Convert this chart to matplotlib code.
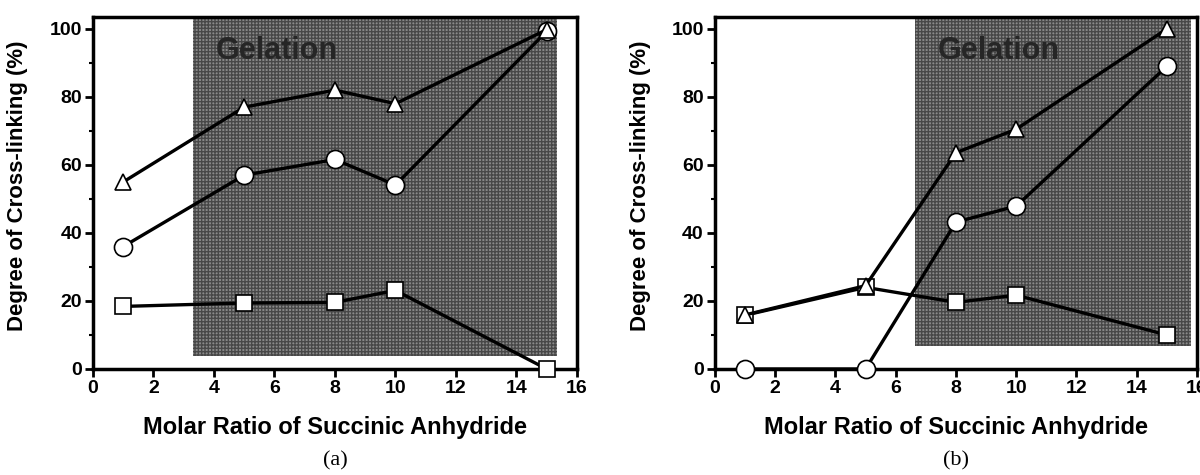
import matplotlib.pyplot as plt
from matplotlib.patches import Rectangle
from matplotlib.ticker import MultipleLocator

plt.rcParams['font.family'] = ['Liberation Sans', 'DejaVu Sans']

x = [1, 5, 8, 10, 15]

# panel (a)
a_tri = [55, 77, 82, 78, 99.8]
a_circ = [36, 57, 61.6, 54.1, 99.3]
a_sq = [18.4, 19.4, 19.6, 23.1, 0]

# panel (b)
b_tri = [15.9, 24.5, 63.6, 70.5, 100]
b_circ = [0, 0, 43.2, 47.9, 89]
b_sq = [15.8, 24, 19.6, 21.7, 10]

# gelation region (x0, x1, y0, y1)
a_gel = (3.3, 15.35, 3.7, 102.8)
b_gel = (6.65, 15.8, 6.8, 102.8)

xticks = list(range(0, 17, 2))
yticks = list(range(0, 101, 20))

fig = plt.figure(figsize=(12, 4.75), dpi=100)
ax1 = fig.add_axes([0.0775, 0.2232, 0.4033, 0.741])
ax2 = fig.add_axes([0.5958, 0.2232, 0.4017, 0.741])


def panel(ax, gel, tri, circ, sq, gel_x, tag):
    x0, x1, y0, y1 = gel
    ax.add_patch(Rectangle((x0, y0), x1 - x0, y1 - y0, facecolor='#8a8a8a',
                           edgecolor='#484848', hatch='+++++', linewidth=0, zorder=1))
    ax.text(gel_x, 93.5, 'Gelation', fontsize=22, fontweight='bold', color='#262626',
            va='center', ha='left', zorder=2)
    for ys, m, ms in [(sq, 's', 11), (circ, 'o', 13), (tri, '^', 12)]:
        ax.plot(x, ys, color='black', lw=2.4, marker=m, ms=ms, mfc='white', mec='black',
                mew=1.2, clip_on=False, zorder=3)
    ax.set_xlim(0, 16)
    ax.set_ylim(0, 103.5)
    ax.set_xticks(xticks)
    ax.set_yticks(yticks)
    ax.yaxis.set_minor_locator(MultipleLocator(10))
    ax.tick_params(direction='out', length=6, width=2, labelsize=14, pad=2)
    ax.tick_params(which='minor', direction='out', length=3, width=1.5)
    for lab in ax.get_xticklabels() + ax.get_yticklabels():
        lab.set_fontweight('bold')
    for s in ax.spines.values():
        s.set_linewidth(2.5)
    ax.set_xlabel('Molar Ratio of Succinic Anhydride', fontsize=17, fontweight='bold',
                  va='center')
    ax.xaxis.set_label_coords(0.5, -0.165)
    ax.set_ylabel('Degree of Cross-linking (%)', fontsize=16, fontweight='bold', va='center')
    ax.yaxis.set_label_coords(-0.155, 0.52)
    ax.text(0.5, -0.26, tag, transform=ax.transAxes, ha='center', va='center',
            fontsize=16, family=['Liberation Serif', 'DejaVu Serif'])


panel(ax1, a_gel, a_tri, a_circ, a_sq, 4.05, '(a)')
panel(ax2, b_gel, b_tri, b_circ, b_sq, 7.4, '(b)')

fig.savefig('out.png', dpi=100)
